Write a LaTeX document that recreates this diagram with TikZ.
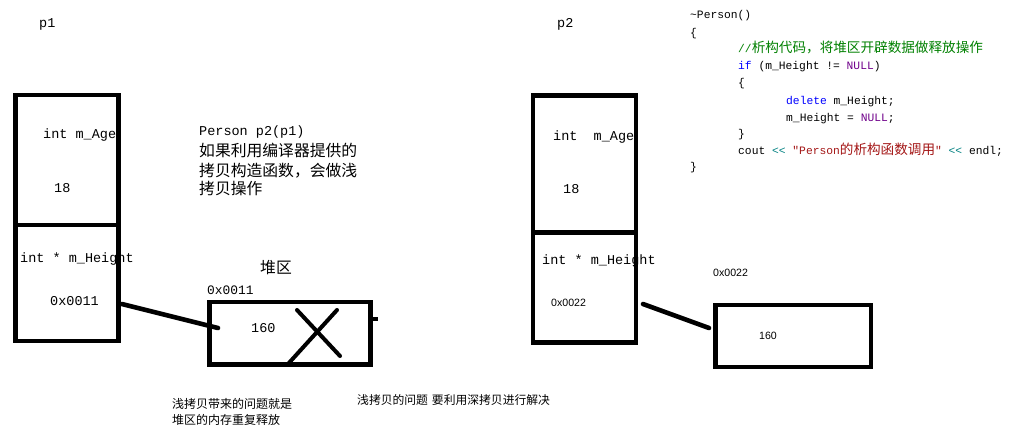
\documentclass[tikz,border=0pt]{standalone}
\usepackage{fontspec}
\setmainfont{Liberation Mono}
\newfontfamily\mono{Liberation Mono}
\newfontfamily\cjk{Noto Sans CJK SC}
\newfontfamily\sans{Liberation Sans}
\definecolor{cgreen}{RGB}{0,128,0}
\definecolor{cblue}{RGB}{0,0,255}
\definecolor{cpurple}{RGB}{111,0,138}
\definecolor{cteal}{RGB}{0,128,128}
\definecolor{cred}{RGB}{163,21,21}
\newcommand{\cz}[1]{{\cjk\fontsize{13.6}{16}\selectfont #1}}
\begin{document}
\begin{tikzpicture}[x=1pt,y=-1pt,
  lbl/.style={inner sep=0pt, anchor=base west, font=\mono\fontsize{13.5}{16}\selectfont},
  cn/.style={inner sep=0pt, anchor=base west, font=\cjk\fontsize{15.8}{19}\selectfont},
  cnsmall/.style={inner sep=0pt, anchor=base west, font=\cjk\fontsize{12}{15}\selectfont},
  sm/.style={inner sep=0pt, anchor=base west, font=\sans\fontsize{10.6}{12}\selectfont},
  code/.style={inner sep=0pt, anchor=base west, font=\mono\fontsize{11.3}{14}\selectfont},
  membox/.style={draw, line width=4.6pt, inner sep=0pt, outer sep=0pt, anchor=north west},
  heapbox/.style={draw, line width=4.5pt, inner sep=0pt, outer sep=0pt, anchor=north west},
  conn/.style={line width=4.6pt, line cap=round},
  cross/.style={line width=4pt, line cap=round}]
\useasboundingbox (0,0) rectangle (1017,432);

% ---------- left: p1 ----------
\node[lbl] (p1) at (39,27) {p1};
\node[lbl] (p1age) at (43,138) {int m\_Age};
\node[lbl] (p1v) at (54,192) {18};
\node[lbl] (p1h) at (20,262) {int * m\_Height};
\node[lbl] (p1addr) at (50,305) {0x0011};
\node[membox, minimum width=103pt, minimum height=246pt] (p1box) at (15.5,95) {};
\draw[line width=4.6pt] (15.5,225) -- (118.5,225);

\node[lbl] (note1) at (199,135) {Person p2(p1)};
\node[cn] (note2) at (199,156) {如果利用编译器提供的};
\node[cn] (note3) at (199,176) {拷贝构造函数，会做浅};
\node[cn] (note4) at (199,194) {拷贝操作};

\node[cn] (heapt) at (260,273) {堆区};
\node[lbl, font=\mono\fontsize{12.9}{15}\selectfont] (h1addr) at (207,294) {0x0011};
\node[heapbox, minimum width=161pt, minimum height=62.5pt] (heap1) at (209.5,302) {};
\node[lbl] (h1v) at (251,332) {160};
\draw[cross] (297,310) -- (340,356);
\draw[cross] (337,310) -- (288,364);
\draw[line width=4pt] (373,319) -- (378,319);

\coordinate (c1s) at (122,304);
\coordinate (c1e) at (218,328);
\draw[conn] (c1s) -- (c1e);

\node[cnsmall] (b1) at (172,408) {浅拷贝带来的问题就是};
\node[cnsmall] (b2) at (172,424) {堆区的内存重复释放};
\node[cnsmall, font=\cjk\fontsize{11.8}{14}\selectfont] (b3) at (357,404) {浅拷贝的问题\hspace{4pt}要利用深拷贝进行解决};

% ---------- right: p2 ----------
\node[lbl] (p2) at (557,27) {p2};
\node[lbl] (p2age) at (553,140) {int\ \ m\_Age};
\node[lbl] (p2v) at (563,193) {18};
\node[lbl] (p2h) at (542,264) {int * m\_Height};
\node[sm] (p2addr) at (551,306) {0x0022};
\node[membox, minimum width=103pt, minimum height=247pt] (p2box) at (533,95.5) {};
\draw[line width=4.6pt] (533,232.5) -- (636,232.5);

\node[sm] (h2addr) at (713,276) {0x0022};
\node[heapbox, line width=4.8pt, minimum width=155.5pt, minimum height=62pt] (heap2) at (715.5,305) {};
\node[sm] (h2v) at (759,339) {160};

\coordinate (c2s) at (643,304);
\coordinate (c2e) at (709,328);
\draw[conn] (c2s) -- (c2e);

% ---------- code ----------
\node[code] (k1) at (690,18) {\char`\~Person()};
\node[code] (k2) at (690,36) {\{};
\node[code, text=cgreen] (k3) at (738,52) {//\cz{析构代码，将堆区开辟数据做释放操作}};
\node[code] (k4) at (738,69) {\textcolor{cblue}{if} (m\_Height != \textcolor{cpurple}{NULL})};
\node[code] (k5) at (738,86) {\{};
\node[code] (k6) at (786,104) {\textcolor{cblue}{delete} m\_Height;};
\node[code] (k7) at (786,121) {m\_Height = \textcolor{cpurple}{NULL};};
\node[code] (k8) at (738,137) {\}};
\node[code] (k9) at (738,154) {cout \textcolor{cteal}{<<} \textcolor{cred}{"Person\cz{的析构函数调用}"} \textcolor{cteal}{<<} endl;};
\node[code] (k10) at (690,170) {\}};
\end{tikzpicture}
\end{document}
